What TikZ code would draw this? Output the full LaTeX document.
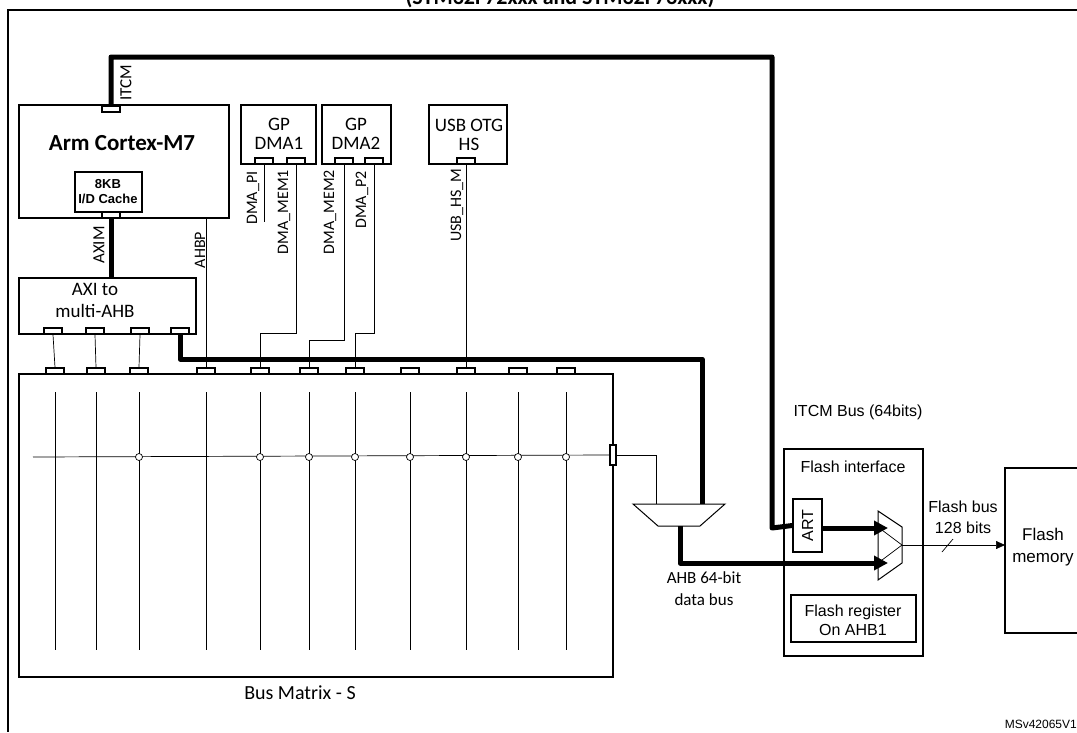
\documentclass[tikz,border=0pt]{standalone}
\usepackage{fontspec}
\setmainfont{Carlito}
\newfontfamily\arialf{Liberation Sans}
\usetikzlibrary{arrows.meta}
\begin{document}
\begin{tikzpicture}[x=1pt,y=-1pt,
  box/.style={draw,line width=2pt},
  port/.style={draw,line width=1.4pt,fill=white,minimum width=18pt,minimum height=6pt,inner sep=0pt},
  thick bus/.style={line width=5pt},
  thin/.style={line width=0.7pt},
  lab/.style={font=\fontsize{16}{16}\selectfont,rotate=90,inner sep=0pt},
  af/.style={font=\arialf\fontsize{16}{19}\selectfont,align=center,inner sep=0pt}]
\useasboundingbox (0,0) rectangle (1077,732);
\fill[white] (0,0) rectangle (1077,732);
\node[font=\bfseries\fontsize{22}{22}\selectfont] (title) at (560,-2) {(STM32F72xxx and STM32F73xxx)};
\draw[line width=2pt] (1077,10) -- (8,10) -- (8,732);
% Cortex
\draw[box] (19,105) rectangle (229,218);
\node[font=\bfseries\fontsize{23}{23}\selectfont] (cm7) at (122,143) {Arm Cortex-M7};
\draw[box] (75,172) rectangle (142,212);
\node[font=\arialf\bfseries\fontsize{13}{15}\selectfont,align=center,inner sep=0pt] (cache) at (108,192) {8KB\\I/D Cache};
\node[port] (itcmp) at (111,109) {};
\node[port] (axip) at (111,215) {};
% AXI
\draw[box] (19,278) rectangle (196,334);
\node[font=\fontsize{19}{22}\selectfont,align=center] (axi) at (95,300) {AXI to\\multi-AHB};
\foreach \n/\x in {a1/53,a2/95,a3/140,a4/180} \node[port] (\n) at (\x,331) {};
% DMA boxes
\draw[box] (241,105) rectangle (316,164);
\node[font=\fontsize{19}{19}\selectfont,align=center] (d1) at (279,134) {GP\\DMA1};
\draw[box] (322,105) rectangle (391,164);
\node[font=\fontsize{19}{19}\selectfont,align=center] (d2) at (356,134) {GP\\DMA2};
\draw[box] (429,105) rectangle (507,164);
\node[font=\fontsize{19}{19}\selectfont,align=center] (usb) at (469,135) {USB OTG\\HS};
\foreach \n/\x in {p1/264,p2/296,p3/344,p4/374,p5/466} \node[port] (\n) at (\x,161) {};
% Bus matrix
\draw[box] (19,374) rectangle (613,677);
\foreach \n/\x in {b1/55,b2/96,b3/139,b4/206,b5/260,b6/309,b7/355,b8/410,b9/466,b10/518,b11/566} {
  \draw[thin] (\x,392) -- (\x,650);
  \node[port] (\n) at (\x,371) {};
}
\node[draw,line width=1.4pt,fill=white,minimum width=6pt,minimum height=20pt,inner sep=0pt] (bmp) at (613,455) {};
\draw[thin] (33,457) -- (bmp.west);
\foreach \x in {139,260,309,355,410,466,518,566} \draw[thin,fill=white] (\x,457) circle (3.5);
\node[font=\fontsize{20}{20}\selectfont] (bmlab) at (300,693) {Bus Matrix - S};
% connectors
\draw[thin] (a1.south) -- (b1.north);
\draw[thin] (a2.south) -- (b2.north);
\draw[thin] (a3.south) -- (b3.north);
\draw[thin] (206,218) -- (b4.north);
\node[lab] (ahbp) at (200,250) {AHBP};
\draw[thin] (p1.south) -- (264,222);
\node[lab] (lpi) at (253,198) {DMA\_PI};
\draw[thin] (p2.south) -- (296,333) -- (260,333) -- (b5.north);
\node[lab] (lm1) at (284,212) {DMA\_MEM1};
\draw[thin] (p3.south) -- (344,340) -- (309,340) -- (b6.north);
\node[lab] (lm2) at (330,212) {DMA\_MEM2};
\draw[thin] (p4.south) -- (374,333) -- (355,333) -- (b7.north);
\node[lab] (lp2) at (362,200) {DMA\_P2};
\draw[thin] (p5.south) -- (b9.north);
\node[lab] (lusb) at (457,205) {USB\_HS\_M};
\draw[thick bus] (axip.south) -- (111,278);
\node[lab,font=\fontsize{17}{17}\selectfont] (laxim) at (99,245) {AXIM};
\node[lab,font=\fontsize{17}{17}\selectfont] (litcm) at (126,83) {ITCM};
% mux
\draw[line width=1pt,fill=white] (633,504) -- (725,504) -- (700,526) -- (658,526) -- cycle;
\coordinate (muxtop) at (702,504);
\coordinate (muxbot) at (680,526);
\draw[thin] (bmp.east) -- (656,455) -- (656,504);
\draw[thick bus,line join=round] (a4.south) -- (180,359) -- (702,359) -- (muxtop);
% flash interface
\draw[box] (784,449) rectangle (923,656);
\node[af] (fil) at (853,467) {Flash interface};
\draw[box] (791,595) rectangle (916,642);
\node[af] (freg) at (853,620) {Flash register\\On AHB1};
\node[draw,line width=1.6pt,minimum width=29pt,minimum height=53pt,inner sep=0pt] (art) at (807.5,525.5) {};
\node[af,rotate=90] at (art) {ART};
\draw[thick bus,line join=round] (itcmp.north) -- (111,57) -- (772,57) -- (772,528) -- (art.west);
\draw[line width=1pt] (878,511) -- (902,527) -- (902,563) -- (878,580) -- cycle;
\coordinate (fm) at (902,545);
\draw[thin] (878,527) -- (fm) -- (878,563);
\draw[thick bus,-{Triangle[length=14pt,width=14pt]}] (art.east|-0,528) -- (888,528);
\draw[thick bus,-{Triangle[length=14pt,width=14pt]},line join=round] (muxbot) -- (680,563) -- (888,563);
\draw[box] (1005,468) rectangle (1080,633);
\node[af,font=\arialf\fontsize{17}{22}\selectfont] (fmem) at (1043,547) {Flash\\memory};
\draw[thin,-{Triangle[length=9pt,width=8pt]}] (fm) -- (1005,545);
\draw[thin] (942,552) -- (953,539);
\node[af,font=\arialf\fontsize{16}{21}\selectfont] (fbl) at (963,517) {Flash bus\\128 bits};
\node[af,font=\arialf\fontsize{16}{16}\selectfont] (itcmbus) at (858,412) {ITCM Bus (64bits)};
\node[font=\fontsize{17}{22}\selectfont,align=center,inner sep=0pt] (ahbl) at (704,589) {AHB 64-bit\\data bus};
\node[af,font=\arialf\fontsize{12}{12}\selectfont,anchor=east] (ms) at (1077,724) {MSv42065V1};
\end{tikzpicture}
\end{document}
